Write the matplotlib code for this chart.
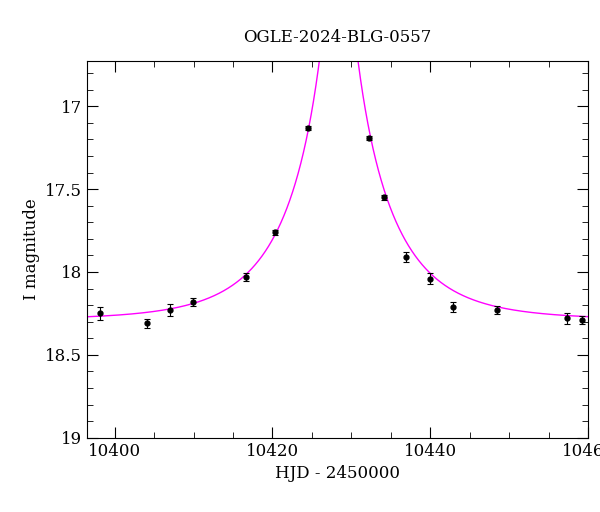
import numpy as np
import matplotlib
matplotlib.use("Agg")
import matplotlib.pyplot as plt
from matplotlib.ticker import MultipleLocator

# observed points
hjd = [10398.1, 10404.1, 10407.0, 10409.9, 10416.6, 10420.3, 10424.5,
       10432.3, 10434.1, 10436.9, 10440.0, 10442.9, 10448.5, 10457.3, 10459.2]
mag = [18.25, 18.31, 18.23, 18.18, 18.03, 17.76, 17.13,
       17.19, 17.55, 17.91, 18.04, 18.21, 18.23, 18.28, 18.29]
err = [0.04, 0.025, 0.035, 0.025, 0.025, 0.015, 0.012,
       0.012, 0.015, 0.03, 0.035, 0.03, 0.025, 0.035, 0.025]

# point-lens model parameters
t0, tE, u0, I0 = 10428.4, 10.9, 0.09, 18.29

plt.rcParams["font.family"] = "DejaVu Serif"
fig = plt.figure(figsize=(6, 5.12), dpi=100)
ax = fig.add_axes([0.145, 0.145, 0.835, 0.735])

t = np.linspace(10396.5, 10460, 4000)
u = np.sqrt(u0**2 + ((t - t0) / tE)**2)
A = (u**2 + 2) / (u * np.sqrt(u**2 + 4))
ax.plot(t, I0 - 2.5 * np.log10(A), color="magenta", lw=1)

ax.errorbar(hjd, mag, yerr=err, fmt="o", color="black", ms=3.5,
            elinewidth=0.8, capsize=2.5, capthick=0.8)

ax.set_xlim(10396.5, 10460)
ax.set_ylim(19, 16.73)
ax.xaxis.set_major_locator(MultipleLocator(20))
ax.xaxis.set_minor_locator(MultipleLocator(5))
ax.yaxis.set_major_locator(MultipleLocator(0.5))
ax.yaxis.set_minor_locator(MultipleLocator(0.1))
ax.yaxis.set_major_formatter(matplotlib.ticker.FuncFormatter(lambda v, p: f"{v:g}"))
ax.tick_params(which="both", direction="in", top=True, right=True, labelsize=12)
ax.tick_params(which="major", length=8)
ax.tick_params(which="minor", length=4)
ax.set_xlabel("HJD - 2450000", fontsize=12)
ax.set_ylabel("I magnitude", fontsize=12)
ax.set_title("OGLE-2024-BLG-0557", fontsize=12, pad=14)

fig.savefig("out.png")
